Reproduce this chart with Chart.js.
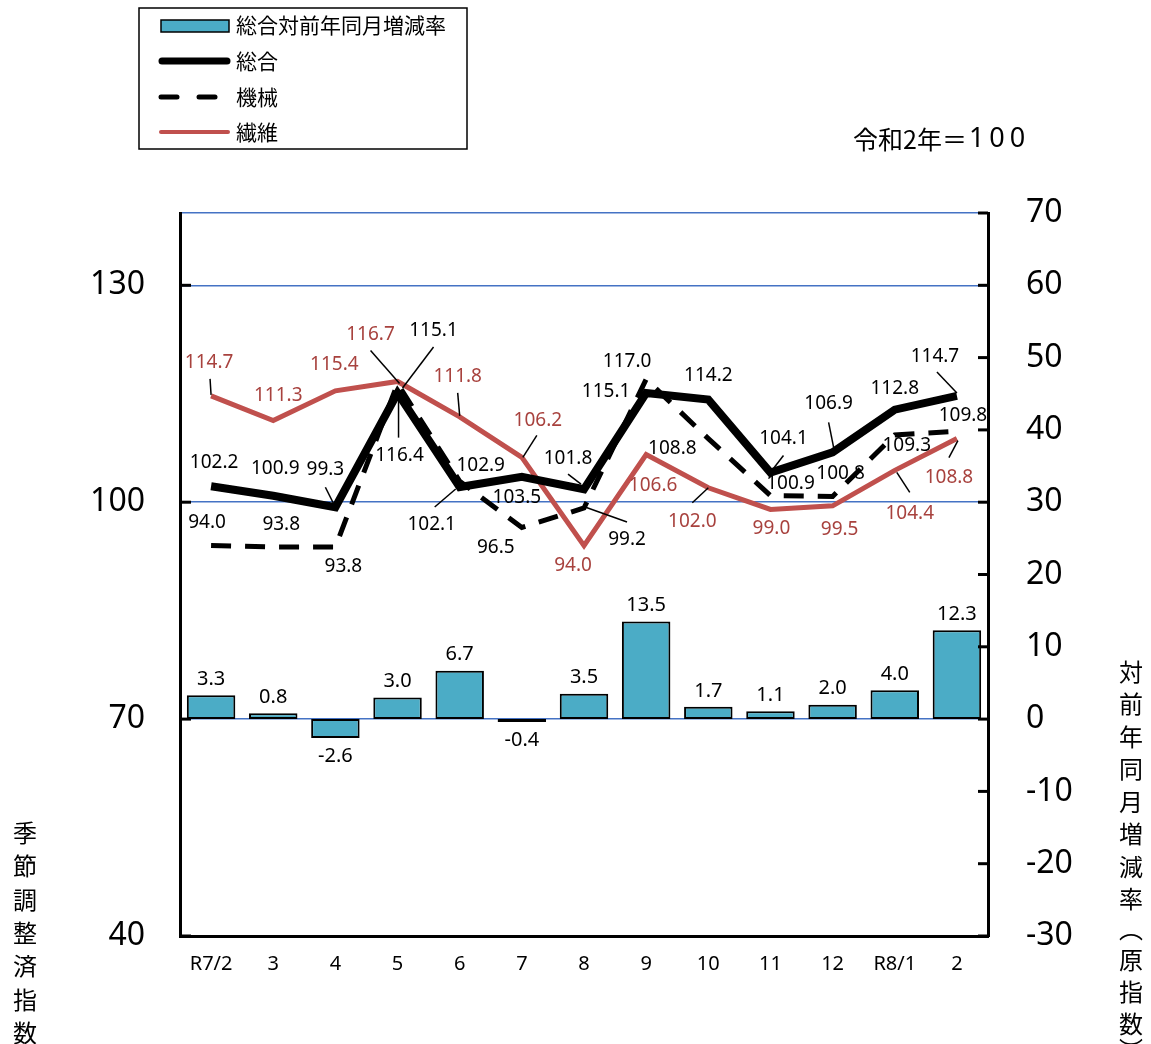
<!DOCTYPE html>
<html>
<head>
<meta charset="utf-8">
<script src="https://cdn.jsdelivr.net/npm/chart.js@4.4.1/dist/chart.umd.min.js"></script>
<style>
html, body { margin: 0; padding: 0; background: #fff; }
#wrap { width: 1151px; height: 1044px; position: relative; }
</style>
</head>
<body>
<div id="wrap"><canvas id="myChart"></canvas></div>
<script>
const labels = ['R7/2', '3', '4', '5', '6', '7', '8', '9', '10', '11', '12', 'R8/1', '2'];
const rateData = [3.3, 0.8, -2.6, 3.0, 6.7, -0.4, 3.5, 13.5, 1.7, 1.1, 2.0, 4.0, 12.3];
const sougouData = [102.2, 100.9, 99.3, 115.1, 102.1, 103.5, 101.8, 115.1, 114.2, 104.1, 106.9, 112.8, 114.7];
const kikaiData = [94.0, 93.8, 93.8, 116.4, 102.9, 96.5, 99.2, 117.0, 108.8, 100.9, 100.8, 109.3, 109.8];
const seniData = [114.7, 111.3, 115.4, 116.7, 111.8, 106.2, 94.0, 106.6, 102.0, 99.0, 99.5, 104.4, 108.8];
const leftTicks = [40, 70, 100, 130, 140];
const gridValues = [70, 100, 130, 140];

// label placement relative to each point: [dx, dy], leader: [x1, y1, x2, y2] or null
const sougouPos = [[3, -24], [2, -27], [-10, -38], [36, -62], [-28, 38], [-5, 21], [-16, -31],
    [-40, -1], [0, -24], [13, -34], [-4, -49], [0, -21], [-22, -39]];
const sougouLeader = [null, null, [-10, -20, -2, -4], [36, -46, 5, -5], [-25, 20, -4, 2], null,
    [-16, -15, -3, -5], null, null, [13, -17, 3, -4], [-4, -30, 1, -5], null, [-20, -24, 0, -3]];
const kikaiPos = [[-4, -23], [8, -22], [8, 20], [2, 72], [21, -16], [-26, 20], [43, 32],
    [-19, -18], [-36, 10], [20, -12], [8, -23], [12, 11], [6, -16]];
const kikaiLeader = [null, null, null, [1, 54, 1, 7], null, null, [43, 14, 1, -1],
    null, null, null, null, null, null];
const seniPos = [[-2, -33], [5, -25], [-1, -26], [-27, -47], [-2, -40], [16, -37], [-11, 20],
    [7, 31], [-16, 34], [1, 19], [7, 24], [15, 43], [-8, 39]];
const seniLeader = [[-1, -17, 0, -1], null, null, [-27, -31, 2, 2], [-2, -24, 0, -1], [15, -22, 1, 0], null,
    null, [-16, 15, 0, 0], null, null, [15, 22, 2, 2], [-8, 19, 1, 2]];

const FONT = '"Noto Sans", "Noto Sans CJK JP", sans-serif';
const JP = '"Noto Sans CJK JP", "Noto Sans", sans-serif';
const BAR_COLOR = '#4BACC6';
const RED = '#C0504D';

const labelPlugin = {
    id: 'valueLabels',
    afterDatasetsDraw(chart) {
        const ctx = chart.ctx;
        ctx.save();
        ctx.textAlign = 'center';
        ctx.textBaseline = 'middle';
        chart.data.datasets.forEach((ds, di) => {
            const meta = chart.getDatasetMeta(di);
            meta.data.forEach((el, i) => {
                const v = ds.data[i];
                const txt = v.toFixed(1);
                if (ds.type === 'bar') {
                    ctx.font = '20px ' + FONT;
                    ctx.fillStyle = '#000';
                    const y = v >= 0 ? el.y - 16 : el.y + 18;
                    ctx.fillText(txt, el.x, y);
                    return;
                }
                ctx.font = '19px ' + FONT;
                const p = ds.labelPos[i];
                const l = ds.leader[i];
                if (l) {
                    ctx.strokeStyle = '#000';
                    ctx.lineWidth = 1.5;
                    ctx.beginPath();
                    ctx.moveTo(el.x + l[0], el.y + l[1]);
                    ctx.lineTo(el.x + l[2], el.y + l[3]);
                    ctx.stroke();
                }
                ctx.fillStyle = ds.labelColor;
                ctx.fillText(txt, el.x + p[0], el.y + p[1]);
            });
        });
        ctx.restore();
    }
};

const decorPlugin = {
    id: 'decor',
    afterDraw(chart) {
        const ctx = chart.ctx;
        const y = chart.scales.y, y1 = chart.scales.y1;
        const area = chart.chartArea;
        ctx.save();
        // inward tick marks
        ctx.strokeStyle = '#000';
        ctx.lineWidth = 3;
        [40, 70, 100, 130].forEach(v => {
            const py = y.getPixelForValue(v);
            ctx.beginPath();
            ctx.moveTo(area.left, py);
            ctx.lineTo(area.left + 11, py);
            ctx.stroke();
        });
        for (let v = -30; v <= 70; v += 10) {
            const py = y1.getPixelForValue(v);
            ctx.beginPath();
            ctx.moveTo(area.right, py);
            ctx.lineTo(area.right - 10, py);
            ctx.stroke();
        }

        // legend
        ctx.lineWidth = 1.5;
        ctx.strokeRect(139, 8, 328, 141);
        ctx.fillStyle = BAR_COLOR;
        ctx.fillRect(161, 20, 68, 12);
        ctx.lineWidth = 1.5;
        ctx.strokeRect(161, 20, 68, 12);
        ctx.lineCap = 'round';
        ctx.lineWidth = 7;
        ctx.beginPath(); ctx.moveTo(162, 61); ctx.lineTo(227, 61); ctx.stroke();
        ctx.lineWidth = 5;
        ctx.beginPath(); ctx.moveTo(161, 97); ctx.lineTo(177, 97); ctx.stroke();
        ctx.beginPath(); ctx.moveTo(199, 97); ctx.lineTo(215, 97); ctx.stroke();
        ctx.strokeStyle = RED;
        ctx.lineWidth = 4;
        ctx.beginPath(); ctx.moveTo(161, 132); ctx.lineTo(228, 132); ctx.stroke();
        ctx.lineCap = 'butt';

        ctx.fillStyle = '#000';
        ctx.font = '21px ' + JP;
        ctx.textAlign = 'left';
        ctx.textBaseline = 'middle';
        ctx.fillText('総合対前年同月増減率', 236, 25);
        ctx.fillText('総合', 236, 61);
        ctx.fillText('機械', 236, 97);
        ctx.fillText('繊維', 236, 132);

        // base year note
        ctx.font = '25px ' + JP;
        ctx.fillText('令和2年＝', 853, 139);
        const w = ctx.measureText('令和2年＝').width;
        ctx.font = '27px ' + FONT;
        ctx.letterSpacing = '5px';
        ctx.fillText('100', 853 + w + 2, 139);
        ctx.letterSpacing = '0px';

        // vertical axis titles
        ctx.textAlign = 'center';
        ctx.font = '24px ' + JP;
        const leftTitle = '季節調整済指数';
        for (let k = 0; k < leftTitle.length; k++) {
            ctx.fillText(leftTitle[k], 25, 833 + k * 33.3);
        }
        const rightTitle = ['対', '前', '年', '同', '月', '増', '減', '率', '︵', '原', '指', '数', '︶'];
        const rightY = [672, 704, 737, 769, 802, 834, 867, 899, 929, 960, 992, 1024, 1050];
        rightTitle.forEach((ch, k) => ctx.fillText(ch, 1131, rightY[k]));
        ctx.restore();
    }
};

const config = {
    type: 'bar',
    data: {
        labels: labels,
        datasets: [
            {
                type: 'line', label: '総合', data: sougouData, yAxisID: 'y', order: 1,
                borderColor: '#000', borderWidth: 8, pointRadius: 0, tension: 0,
                labelPos: sougouPos, leader: sougouLeader, labelColor: '#000'
            },
            {
                type: 'line', label: '機械', data: kikaiData, yAxisID: 'y', order: 2,
                borderColor: '#000', borderWidth: 5, borderDash: [20, 14], pointRadius: 0, tension: 0,
                labelPos: kikaiPos, leader: kikaiLeader, labelColor: '#000'
            },
            {
                type: 'line', label: '繊維', data: seniData, yAxisID: 'y', order: 3,
                borderColor: RED, borderWidth: 5, pointRadius: 0, tension: 0,
                labelPos: seniPos, leader: seniLeader, labelColor: '#A8423E'
            },
            {
                type: 'bar', label: '総合対前年同月増減率', data: rateData, yAxisID: 'y1', order: 4,
                backgroundColor: BAR_COLOR, borderColor: '#000', borderWidth: 2,
                barPercentage: 0.78, categoryPercentage: 1.0, borderSkipped: false
            }
        ]
    },
    options: {
        responsive: true,
        maintainAspectRatio: false,
        animation: false,
        layout: { padding: { top: 213, left: 0, right: 0, bottom: 0 } },
        plugins: { legend: { display: false }, tooltip: { enabled: false } },
        scales: {
            x: {
                grid: { display: false },
                border: { color: '#000', width: 3 },
                ticks: { color: '#000', font: { size: 20, family: FONT }, padding: 8, maxRotation: 0, autoSkip: false },
                afterFit(s) { s.height = 108; }
            },
            y: {
                position: 'left', min: 40, max: 140,
                afterBuildTicks(s) { s.ticks = leftTicks.map(v => ({ value: v })); },
                ticks: {
                    color: '#000', font: { size: 32, family: FONT }, padding: 35,
                    callback: v => (v === 140 ? '' : v)
                },
                grid: {
                    color: c => (gridValues.includes(c.tick.value) ? '#4472C4' : 'rgba(0,0,0,0)'),
                    lineWidth: 1.5, drawTicks: false
                },
                border: { color: '#000', width: 3 },
                afterFit(s) { s.width = 180; }
            },
            y1: {
                position: 'right', min: -30, max: 70,
                ticks: { stepSize: 10, color: '#000', font: { size: 32, family: FONT }, padding: 38 },
                grid: { display: false, drawTicks: false },
                border: { color: '#000', width: 3 },
                afterFit(s) { s.width = 163; }
            }
        }
    },
    plugins: [labelPlugin, decorPlugin]
};

const myChart = new Chart(document.getElementById('myChart'), config);
</script>
</body>
</html>
